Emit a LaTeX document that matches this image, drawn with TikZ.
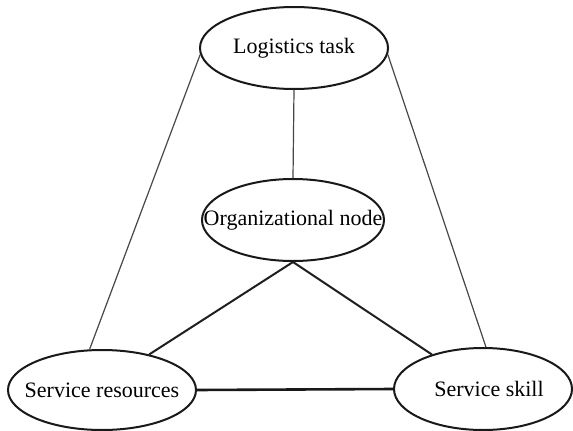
\documentclass[tikz,border=0pt]{standalone}
\usepackage{fontspec}
\setmainfont{Liberation Serif}
\usetikzlibrary{shapes.geometric}
\newcommand{\ctext}[1]{\makebox[0pt]{#1}}
\begin{document}
\begin{tikzpicture}[x=1pt,y=-1pt,
  entity/.style={ellipse,draw=black!90,line width=2pt,fill=white,inner sep=0pt,
    font=\fontsize{22}{24}\selectfont},
  weak/.style={draw=black!72,line width=1.2pt},
  strong/.style={draw=black!88,line width=2pt},
  strongest/.style={draw=black!90,line width=2.6pt}]
\useasboundingbox (0,0) rectangle (573,431);
\fill[white] (0,0) rectangle (573,431);

% the four entities
\node[entity,minimum width=188pt,minimum height=82pt] (task) at (294,48) {\ctext{Logistics task}};
\node[entity,minimum width=182pt,minimum height=82pt] (org)  at (293,220) {\ctext{Organizational node}};
\node[entity,minimum width=188pt,minimum height=80pt] (res)  at (102,390) {\ctext{Service resources}};
\node[entity,minimum width=178pt,minimum height=82pt] (skill) at (483,389) {\ctext{\hspace{12pt}Service skill}};

% relations
\draw[weak] (task.south) -- (org.north);
\draw[weak] (task.184) -- (res.107);
\draw[weak] (task.356) -- (skill.86);
\draw[strong] (org.south) -- (res.37);
\draw[strong] (org.south) -- (skill.146);
\draw[strongest] (res.east) -- (skill.west);
\end{tikzpicture}
\end{document}
